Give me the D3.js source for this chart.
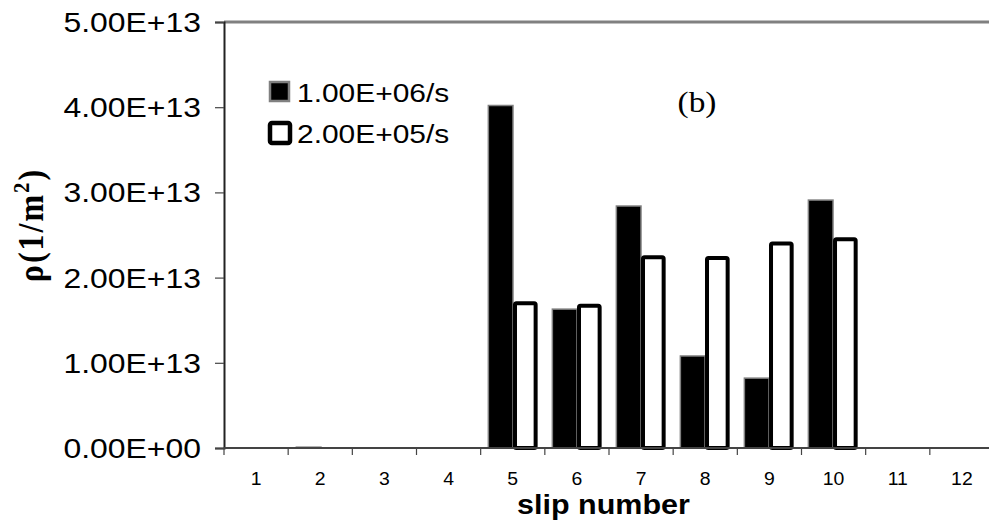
<!DOCTYPE html>
<html>
<head>
<meta charset="utf-8">
<script src="https://cdn.jsdelivr.net/npm/d3@7"></script>
<style>
  html, body { margin: 0; padding: 0; background: #fff; }
  svg { display: block; }
</style>
</head>
<body>
<svg id="chart" width="989" height="525"></svg>
<script>
// Slip systems 1..12
const slips = ["1", "2", "3", "4", "5", "6", "7", "8", "9", "10", "11", "12"];
// Dislocation density (1/m^2) per slip system for each strain rate
const rateHigh = [0, 1.0e11, 0, 0, 4.02e13, 1.63e13, 2.84e13, 1.08e13, 0.82e13, 2.91e13, 0, 0];
const rateLow  = [0, 0, 0, 0, 1.70e13, 1.67e13, 2.24e13, 2.23e13, 2.40e13, 2.45e13, 0, 0];
const seriesNames = ["1.00E+06/s", "2.00E+05/s"];
const yTicks = [0, 1e13, 2e13, 3e13, 4e13, 5e13];
const yTickLabels = ["0.00E+00", "1.00E+13", "2.00E+13", "3.00E+13", "4.00E+13", "5.00E+13"];

const SANS = "Arial, 'Liberation Sans', sans-serif";
const SERIF = "'Times New Roman', 'Liberation Serif', serif";
const WIDE = 1.14; // text is set slightly wide

const svg = d3.select("#chart");
const plotL = 224, plotR = 994, plotT = 22, plotB = 448;

const x = d3.scaleBand().domain(slips).range([plotL, plotR]).paddingInner(0.23).paddingOuter(0.13);
const xCat = d3.scaleBand().domain(slips).range([plotL, plotR]);
const xSub = d3.scaleBand().domain([0, 1]).range([0, x.bandwidth()]);
const y = d3.scaleLinear().domain([0, 5e13]).range([plotB, plotT]);

// widened text placed at (px, py)
function label(parent, px, py, str, o) {
  const t = parent.append("g")
    .attr("transform", `translate(${px},${py}) scale(${o.sx || WIDE},1)`)
    .append("text")
    .attr("font-family", o.family || SANS)
    .attr("font-size", o.size)
    .attr("font-weight", o.weight || "normal")
    .attr("text-anchor", o.anchor || "start")
    .attr("fill", "#000");
  if (o.dy) t.attr("dy", o.dy);
  t.text(str);
  return t;
}

// Gray top border of the plot area
svg.append("line").attr("x1", plotL).attr("x2", 989).attr("y1", plotT).attr("y2", plotT)
  .attr("stroke", "#808080").attr("stroke-width", 3);

// Bars
const g = svg.append("g");
slips.forEach((s, i) => {
  const x0 = x(s);
  const w = xSub.bandwidth();
  // high strain rate: solid black, gray edge
  const v1 = rateHigh[i];
  if (v1 > 0) {
    g.append("rect")
      .attr("x", x0 + xSub(0)).attr("y", y(v1))
      .attr("width", w).attr("height", y(0) - y(v1))
      .attr("fill", "#000").attr("stroke", "#808080").attr("stroke-width", 1.5);
  }
  // low strain rate: white with heavy black outline
  const v2 = rateLow[i];
  if (v2 > 0) {
    g.append("rect")
      .attr("x", x0 + xSub(1) + 2).attr("y", y(v2))
      .attr("width", w - 4).attr("height", y(0) - y(v2))
      .attr("fill", "#fff").attr("stroke", "#000").attr("stroke-width", 4)
      .attr("rx", 1.5);
  }
});

// Y axis (line and ticks from d3, labels widened)
const yAxis = d3.axisLeft(y).tickValues(yTicks).tickFormat("").tickSize(9);
const ya = svg.append("g").attr("transform", `translate(${plotL},0)`).call(yAxis);
ya.select(".domain").attr("stroke", "#222").attr("stroke-width", 2);
ya.selectAll(".tick line").attr("stroke", "#444").attr("stroke-width", 1.2);
yTicks.forEach((v, i) => {
  label(svg, 201, y(v), yTickLabels[i], { size: 28, anchor: "end", dy: "0.36em" });
});

// X axis: ticks between categories, labels at centers
const xa = svg.append("g").attr("transform", `translate(0,${plotB})`);
xa.append("line").attr("x1", plotL).attr("x2", 989).attr("y1", 0).attr("y2", 0)
  .attr("stroke", "#444").attr("stroke-width", 2);
xa.selectAll("line.tk").data(slips).enter().append("line").attr("class", "tk")
  .attr("x1", d => xCat(d)).attr("x2", d => xCat(d))
  .attr("y1", 0).attr("y2", 7).attr("stroke", "#444").attr("stroke-width", 1.2);
slips.forEach(s => {
  label(svg, xCat(s) + xCat.bandwidth() / 2, 485, s, { size: 18.5, anchor: "middle", sx: 1.05 });
});

// Axis titles
label(svg, 517, 514, "slip number", { size: 27, weight: "bold", sx: 1.13 });

const yl = svg.append("g").attr("transform", "translate(43,225) scale(1.1,1) rotate(-90)")
  .append("text")
  .attr("text-anchor", "middle")
  .attr("font-family", SERIF).attr("font-weight", "bold")
  .attr("font-size", 32).attr("letter-spacing", 2);
yl.append("tspan").text("ρ(1/m");
yl.append("tspan").attr("font-size", 21).attr("dy", -13).text("2");
yl.append("tspan").attr("dy", 13).text(")");

// Legend
const lg = svg.append("g");
lg.append("rect").attr("x", 270).attr("y", 82).attr("width", 19).attr("height", 19)
  .attr("fill", "#000").attr("stroke", "#808080").attr("stroke-width", 2.5);
lg.append("rect").attr("x", 270).attr("y", 123).attr("width", 20).attr("height", 20)
  .attr("fill", "#fff").attr("stroke", "#000").attr("stroke-width", 4.5).attr("rx", 2);
seriesNames.forEach((n, i) => {
  label(lg, 297, 102 + i * 41, n, { size: 26.5, sx: 1.13 });
});

// Panel tag
label(svg, 697, 112, "(b)", { size: 29, family: SERIF, anchor: "middle", sx: 1.15 });
</script>
</body>
</html>
